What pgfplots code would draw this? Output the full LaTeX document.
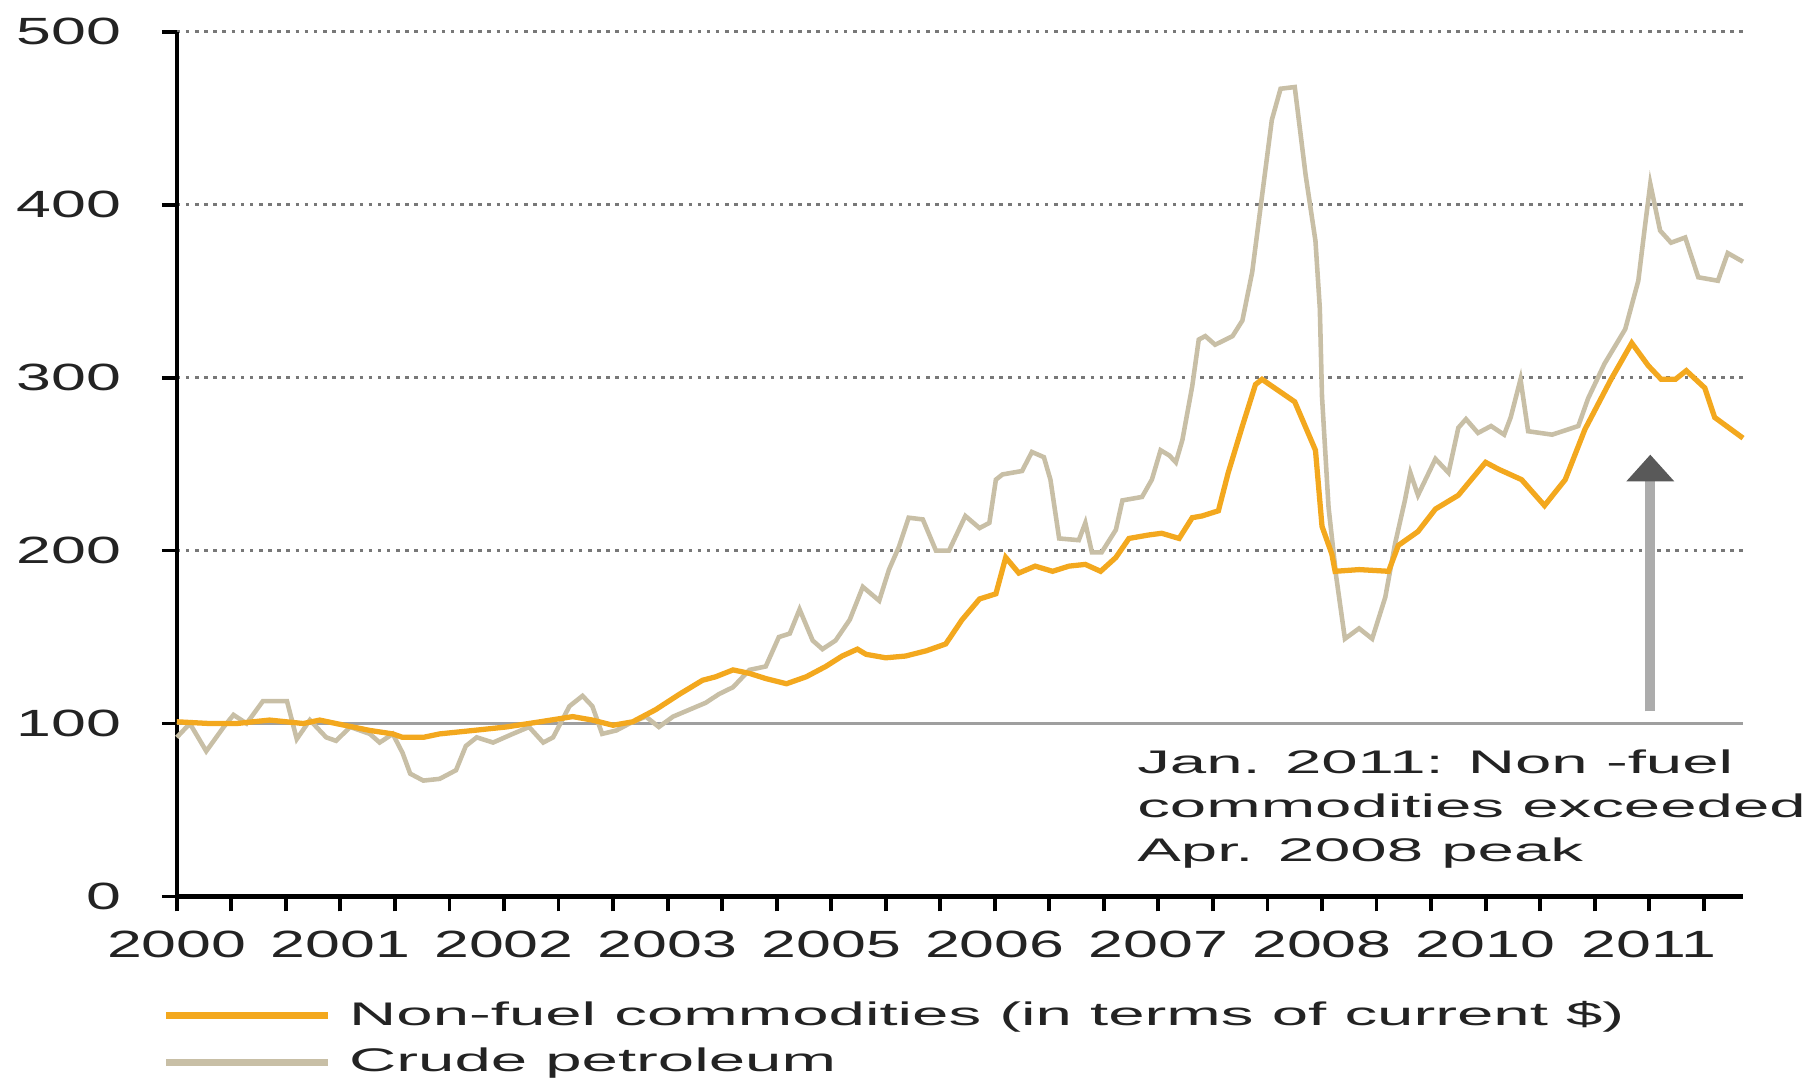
\documentclass[border=0pt]{standalone}
\usepackage{fontspec}
\setmainfont{Liberation Sans}[FakeStretch=1.65]
\newfontfamily\annfont{Liberation Sans}[FakeStretch=2.0]
\usepackage{pgfplots}
\pgfplotsset{compat=1.18}
\definecolor{nonfuel}{RGB}{243,168,30}
\definecolor{crude}{RGB}{200,191,166}
\definecolor{gridc}{RGB}{120,120,120}
\definecolor{txt}{RGB}{35,35,35}
\begin{document}
\begin{tikzpicture}
\path[use as bounding box] (0,0) rectangle (18.12,10.78);
\begin{axis}[
  at={(1.768cm,1.815cm)}, anchor=south west,
  width=15.662cm, height=8.648cm, scale only axis,
  xmin=0, xmax=143.6, ymin=0, ymax=500,
  clip=false,
  axis x line*=bottom, axis y line*=left,
  axis line style={-, line width=1.2pt, black},
  xtick={0,15,...,135},
  xticklabels={2000,2001,2002,2003,2005,2006,2007,2008,2010,2011},
  minor xtick={5,10,...,140},
  ytick={0,100,...,500},
  yticklabels={0,100,200,300,400,500},
  tick align=outside,
  major tick length=0.15cm, minor tick length=0.15cm,
  tick style={black, line width=1.1pt},
  ymajorgrids,
  grid style={gridc, line width=0.8pt, dash pattern=on 1pt off 1.6pt},
  ticklabel style={font=\fontsize{10.8}{12}\selectfont, text=txt},
  xticklabel style={yshift=-0.07cm},
  yticklabel style={xshift=-0.28cm},
  legend style={at={(-0.0095,-0.112)}, anchor=north west, draw=none, fill=none,
    inner sep=0pt, font=\annfont\fontsize{9.3}{11}\selectfont, text=txt,
    row sep=1pt, nodes={inner xsep=5pt}},
  legend cell align=left,
  reverse legend,
  legend image code/.code={\draw[#1, line width=2pt] (0cm,0cm) -- (1.62cm,0cm);},
]
\draw[gray!75, line width=0.8pt] (axis cs:0,100) -- (axis cs:143.6,100);

\addplot[crude, line width=1.3pt] coordinates {
(0,92) (1.2,100) (2.7,84) (4.3,98) (5.2,105) (6.4,100) (7.9,113) (10.1,113)
(11,91) (12.2,102) (13.7,92) (14.6,90) (15.9,98) (17.7,94) (18.6,89) (19.8,94)
(20.7,83) (21.4,71) (22.6,67) (24.1,68) (25.6,73) (26.5,87) (27.5,92) (29,89)
(30.8,94) (32.3,98) (33.6,89) (34.5,92) (36,110) (37.2,116) (38.1,110) (39,94)
(40.3,96) (41.5,100) (43,104) (44.2,98) (45.5,104) (47,108) (48.5,112) (49.7,117)
(51,121) (52.5,131) (54,133) (55.2,150) (56.2,152) (57.1,166) (58.3,148) (59.2,143)
(60.4,148) (61.7,160) (62.9,179) (64.4,171) (65.3,189) (66.2,202) (67.1,219) (68.4,218)
(69.6,200) (70.8,200) (72.3,220) (73.6,213) (74.5,216) (75.1,241) (75.7,244) (77.5,246)
(78.4,257) (79.5,254) (80.1,241) (80.9,207) (82.7,206) (83.3,216) (83.9,199) (84.8,199)
(86.1,212) (86.7,229) (88.5,231) (89.4,241) (90.2,258) (91,255) (91.6,251) (92.2,264)
(93.1,295) (93.7,322) (94.3,324) (95.2,319) (96.8,324) (97.7,333) (98.6,361) (99.5,405)
(100.4,449) (101.2,467) (102.5,468) (103.5,417) (104.4,379) (104.8,340) (105,289) (105.6,225)
(106.3,185) (107.1,149) (108.4,155) (109.6,149) (110.8,173) (111.7,204) (112.6,229) (113.1,245)
(113.8,232) (115.4,253) (116.6,245) (117.5,271) (118.2,276) (119.3,268) (120.5,272) (121.7,267)
(122.3,277) (123.2,299) (123.9,269) (126.1,267) (128.5,272) (129.4,288) (130.9,308) (132.8,328)
(134,356) (134.6,387) (135.1,412) (136,385) (137,378) (138.3,381) (139.5,358) (141.3,356)
(142.2,372) (143.6,367)
};
\addlegendentry{Crude petroleum}

\addplot[nonfuel, line width=1.5pt] coordinates {
(0,101) (3,100) (5.5,100) (8.5,102) (11.6,100) (13.1,102) (14.6,100) (17.7,96)
(19.8,94) (20.7,92) (22.6,92) (24.1,94) (27.2,96) (30.2,98) (33.3,101) (36.3,104)
(38.1,102) (40,99) (41.8,101) (43.9,108) (46.1,117) (48.2,125) (49.4,127) (51,131)
(52.5,129) (54,126) (55.9,123) (57.7,127) (59.5,133) (61,139) (62.4,143) (63.2,140)
(65,138) (66.8,139) (68.7,142) (70.5,146) (72,160) (73.6,172) (75.1,175) (76,196)
(77.2,187) (78.7,191) (80.3,188) (81.8,191) (83.3,192) (84.7,188) (86.1,196) (87.3,207)
(89.1,209) (90.3,210) (91.9,207) (93.1,219) (94,220) (95.5,223) (96.4,245) (97.7,272)
(98.9,296) (99.5,299) (102.5,286) (104.4,258) (105,214) (105.9,198) (106.2,188) (108.4,189)
(111.1,188) (112,203) (113.8,211) (115.4,224) (117.5,232) (120,251) (121.2,247) (123.3,241)
(125.4,226) (127.3,241) (129.1,270) (131.5,299) (133.4,320) (134.9,307) (136.1,299) (137.4,299)
(138.4,304) (140.1,294) (141,277) (143.6,265)
};
\addlegendentry{Non-fuel commodities (in terms of current \$)}

\draw[gray!65, line width=2.8pt] (axis cs:135.1,107) -- (axis cs:135.1,241);
\fill[black!65] (axis cs:135.1,255.4) -- ([xshift=-0.24cm]axis cs:135.1,240) -- ([xshift=0.24cm]axis cs:135.1,240) -- cycle;

\node[anchor=north west, inner sep=0pt, align=left, text=txt,
  font=\annfont\fontsize{9.3}{12.5}\selectfont] at (axis cs:88,85)
  {Jan. 2011: Non -fuel\\commodities exceeded\\Apr. 2008 peak};
\end{axis}
\end{tikzpicture}
\end{document}
